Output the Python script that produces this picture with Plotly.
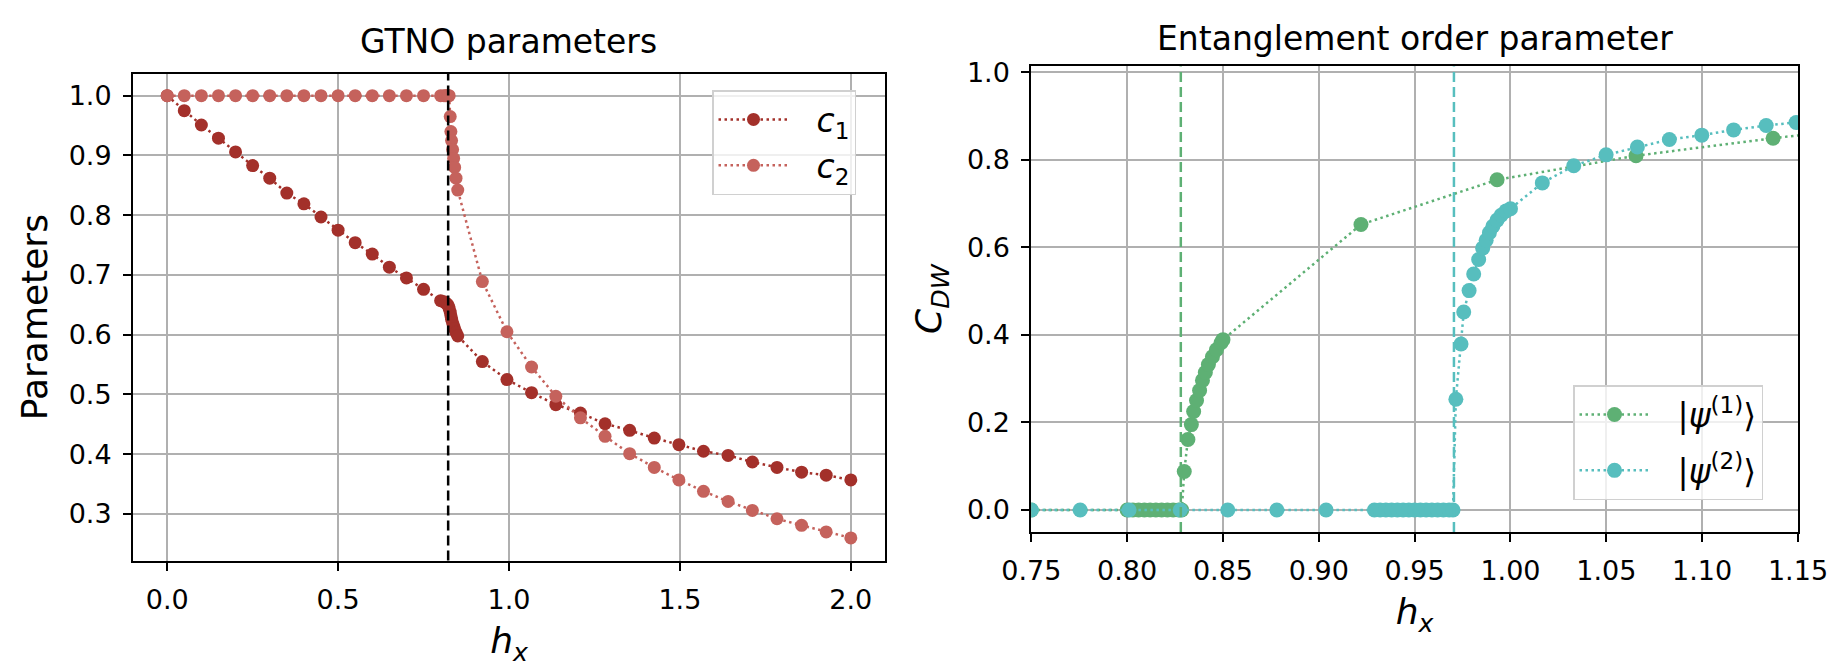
import plotly.graph_objects as go

# ---------------- data: left panel (GTNO parameters) ----------------
hx_left = [0.0, 0.05, 0.10, 0.15, 0.20, 0.25, 0.30, 0.35, 0.40, 0.45, 0.50, 0.55,
           0.60, 0.65, 0.70, 0.75, 0.80, 0.81, 0.815, 0.82, 0.8225, 0.825, 0.828,
           0.830, 0.832, 0.835, 0.838, 0.841, 0.845, 0.85, 0.922, 0.994, 1.066,
           1.137, 1.209, 1.281, 1.353, 1.425, 1.497, 1.569, 1.641, 1.712, 1.784,
           1.856, 1.928, 2.0]
c1 = [1.0, 0.975, 0.951, 0.929, 0.906, 0.883, 0.862, 0.837, 0.819, 0.797, 0.775,
      0.754, 0.735, 0.713, 0.695, 0.676, 0.657, 0.655, 0.653, 0.651, 0.648, 0.644,
      0.638, 0.632, 0.626, 0.620, 0.615, 0.610, 0.604, 0.598, 0.555, 0.525, 0.503,
      0.483, 0.469, 0.451, 0.440, 0.427, 0.416, 0.405, 0.398, 0.387, 0.378, 0.370,
      0.365, 0.357]
c2 = [1.0, 1.0, 1.0, 1.0, 1.0, 1.0, 1.0, 1.0, 1.0, 1.0, 1.0, 1.0, 1.0, 1.0, 1.0,
      1.0, 1.0, 1.0, 1.0, 1.0, 1.0, 1.0, 0.965, 0.940, 0.925, 0.910, 0.895, 0.880,
      0.862, 0.842, 0.689, 0.605, 0.546, 0.497, 0.461, 0.430, 0.401, 0.378, 0.357,
      0.338, 0.321, 0.306, 0.292, 0.281, 0.270, 0.260]
hx_crit_left = 0.822

# ---------------- data: right panel (entanglement order parameter) ----------------
hx_psi1 = [0.70, 0.75, 0.800, 0.803, 0.806, 0.809, 0.812, 0.815, 0.818, 0.821,
           0.824, 0.827, 0.8285, 0.8298, 0.8317, 0.8335, 0.8347, 0.8362, 0.8378,
           0.8393, 0.8408, 0.8424, 0.8445, 0.8466, 0.849, 0.850, 0.922, 0.993,
           1.0655, 1.137, 1.208]
cdw_psi1 = [0.0, 0.0, 0.0, 0.0, 0.0, 0.0, 0.0, 0.0, 0.0, 0.0, 0.0, 0.0, 0.0,
            0.088, 0.161, 0.195, 0.225, 0.250, 0.273, 0.296, 0.314, 0.332, 0.350,
            0.366, 0.382, 0.389, 0.652, 0.754, 0.809, 0.849, 0.884]
hx_psi2 = [0.7245, 0.75, 0.7755, 0.801, 0.8277, 0.8525, 0.8781, 0.9038, 0.929,
           0.932, 0.935, 0.938, 0.941, 0.944, 0.947, 0.950, 0.953, 0.956, 0.959,
           0.962, 0.965, 0.968, 0.970, 0.9715, 0.9742, 0.9756, 0.9784, 0.9808,
           0.9834, 0.9855, 0.9873, 0.989, 0.9908, 0.993, 0.9951, 0.9977, 1.0,
           1.0166, 1.0330, 1.0499, 1.0662, 1.0829, 1.0998, 1.1164, 1.1334, 1.1490]
cdw_psi2 = [0.0, 0.0, 0.0, 0.0, 0.0, 0.0, 0.0, 0.0, 0.0, 0.0, 0.0, 0.0, 0.0, 0.0,
            0.0, 0.0, 0.0, 0.0, 0.0, 0.0, 0.0, 0.0, 0.0, 0.253, 0.379, 0.452, 0.501,
            0.539, 0.572, 0.598, 0.616, 0.633, 0.648, 0.662, 0.673, 0.683, 0.688,
            0.747, 0.786, 0.811, 0.829, 0.846, 0.856, 0.868, 0.878, 0.885]
hx_crit_psi1 = 0.828
hx_crit_psi2 = 0.9705

left_xticks = [0.0, 0.5, 1.0, 1.5, 2.0]

# ---------------- styles ----------------
C1_COL = "#A3302A"
C2_COL = "#C5625C"
G_COL = "#5EB074"
T_COL = "#57BEBE"
FONT = "DejaVu Sans"
DOT = "2.5px,3.5px"
GAP = "\u2002\u2009"

W, H = 1838, 670


def px_x(p):
    return p / W


def px_y(p):
    return 1 - p / H


fig = go.Figure()

fig.add_trace(go.Scatter(x=hx_left, y=c1, mode="lines+markers",
                         name=GAP + "<i>c</i><sub>1</sub>",
                         line=dict(color=C1_COL, width=2.5, dash=DOT),
                         marker=dict(color=C1_COL, size=13),
                         xaxis="x", yaxis="y", legend="legend", legendgroup="a"))
fig.add_trace(go.Scatter(x=hx_left, y=c2, mode="lines+markers",
                         name=GAP + "<i>c</i><sub>2</sub>",
                         line=dict(color=C2_COL, width=2.5, dash=DOT),
                         marker=dict(color=C2_COL, size=13),
                         xaxis="x", yaxis="y", legend="legend", legendgroup="b"))
fig.add_trace(go.Scatter(x=hx_psi1, y=cdw_psi1, mode="lines+markers",
                         name=GAP + "|<i>ψ</i><sup>(1)</sup>⟩",
                         line=dict(color=G_COL, width=2.5, dash=DOT),
                         marker=dict(color=G_COL, size=15),
                         xaxis="x2", yaxis="y2", legend="legend2", legendgroup="c"))
fig.add_trace(go.Scatter(x=hx_psi2, y=cdw_psi2, mode="lines+markers",
                         name=GAP + "|<i>ψ</i><sup>(2)</sup>⟩",
                         line=dict(color=T_COL, width=2.5, dash=DOT),
                         marker=dict(color=T_COL, size=15),
                         xaxis="x2", yaxis="y2", legend="legend2", legendgroup="d"))

for xv, xr, yr, col in [(hx_crit_left, "x", "y domain", "black"),
                        (hx_crit_psi1, "x2", "y2 domain", G_COL),
                        (hx_crit_psi2, "x2", "y2 domain", T_COL)]:
    fig.add_shape(type="line", x0=xv, x1=xv, y0=0, y1=1, xref=xr, yref=yr,
                  line=dict(color=col, width=2.5, dash="10px,5px"))

TICK_FONT = 27
LABEL_FONT = 36
TITLE_FONT = 33
LEGEND_FONT = 33

axis_common = dict(showline=True, linecolor="black", linewidth=2, mirror=True,
                   ticks="outside", ticklen=8, tickwidth=2, tickcolor="black",
                   showgrid=True, gridcolor="#b0b0b0", gridwidth=1.5, zeroline=False,
                   automargin=False, ticklabelstandoff=6,
                   tickfont=dict(family=FONT, size=TICK_FONT, color="black"))

fig.update_layout(
    width=W, height=H,
    margin=dict(l=0, r=0, t=0, b=0, autoexpand=False),
    paper_bgcolor="white", plot_bgcolor="white",
    font=dict(family=FONT, color="black"),
    xaxis=dict(domain=[px_x(125.0), px_x(877.0)], range=[-0.1, 2.1],
               tickvals=left_xticks, tickformat=".1f", anchor="y",
               title=dict(text="<i>h<sub>x</sub></i>", font=dict(size=LABEL_FONT), standoff=14),
               **axis_common),
    yaxis=dict(domain=[px_y(552.6), px_y(65.6)], range=[0.222, 1.037],
               tick0=0, dtick=0.1, tickformat=".1f", anchor="x",
               title=dict(text="Parameters", font=dict(size=LABEL_FONT), standoff=10),
               **axis_common),
    xaxis2=dict(domain=[px_x(1023.3), px_x(1790.0)], range=[0.75, 1.15],
                tick0=0.75, dtick=0.05, tickformat=".2f", anchor="y2",
                title=dict(text="<i>h<sub>x</sub></i>", font=dict(size=LABEL_FONT), standoff=14),
                **axis_common),
    yaxis2=dict(domain=[px_y(523.9), px_y(58.4)], range=[-0.05, 1.013],
                tick0=0, dtick=0.2, tickformat=".1f", anchor="x2",
                title=dict(text="<i>C<sub>DW</sub></i>", font=dict(size=LABEL_FONT), standoff=14),
                **axis_common),
    legend=dict(x=px_x(704), y=px_y(82), xanchor="left", yanchor="top",
                bgcolor="rgba(255,255,255,0.8)", bordercolor="#d0d0d0", borderwidth=1.5,
                font=dict(family=FONT, size=LEGEND_FONT), itemwidth=70, tracegroupgap=0),
    legend2=dict(x=px_x(1565), y=px_y(377), xanchor="left", yanchor="top",
                 bgcolor="rgba(255,255,255,0.8)", bordercolor="#d0d0d0", borderwidth=1.5,
                 font=dict(family=FONT, size=LEGEND_FONT), itemwidth=70, tracegroupgap=10),
    showlegend=True,
    annotations=[
        dict(text="GTNO parameters", x=px_x(501), y=px_y(33), xref="paper", yref="paper",
             xanchor="center", yanchor="middle", showarrow=False,
             font=dict(family=FONT, size=TITLE_FONT, color="black")),
        dict(text="Entanglement order parameter", x=px_x(1406.6), y=px_y(31), xref="paper",
             yref="paper", xanchor="center", yanchor="middle", showarrow=False,
             font=dict(family=FONT, size=TITLE_FONT, color="black")),
    ],
)

fig.write_html("out.html")
